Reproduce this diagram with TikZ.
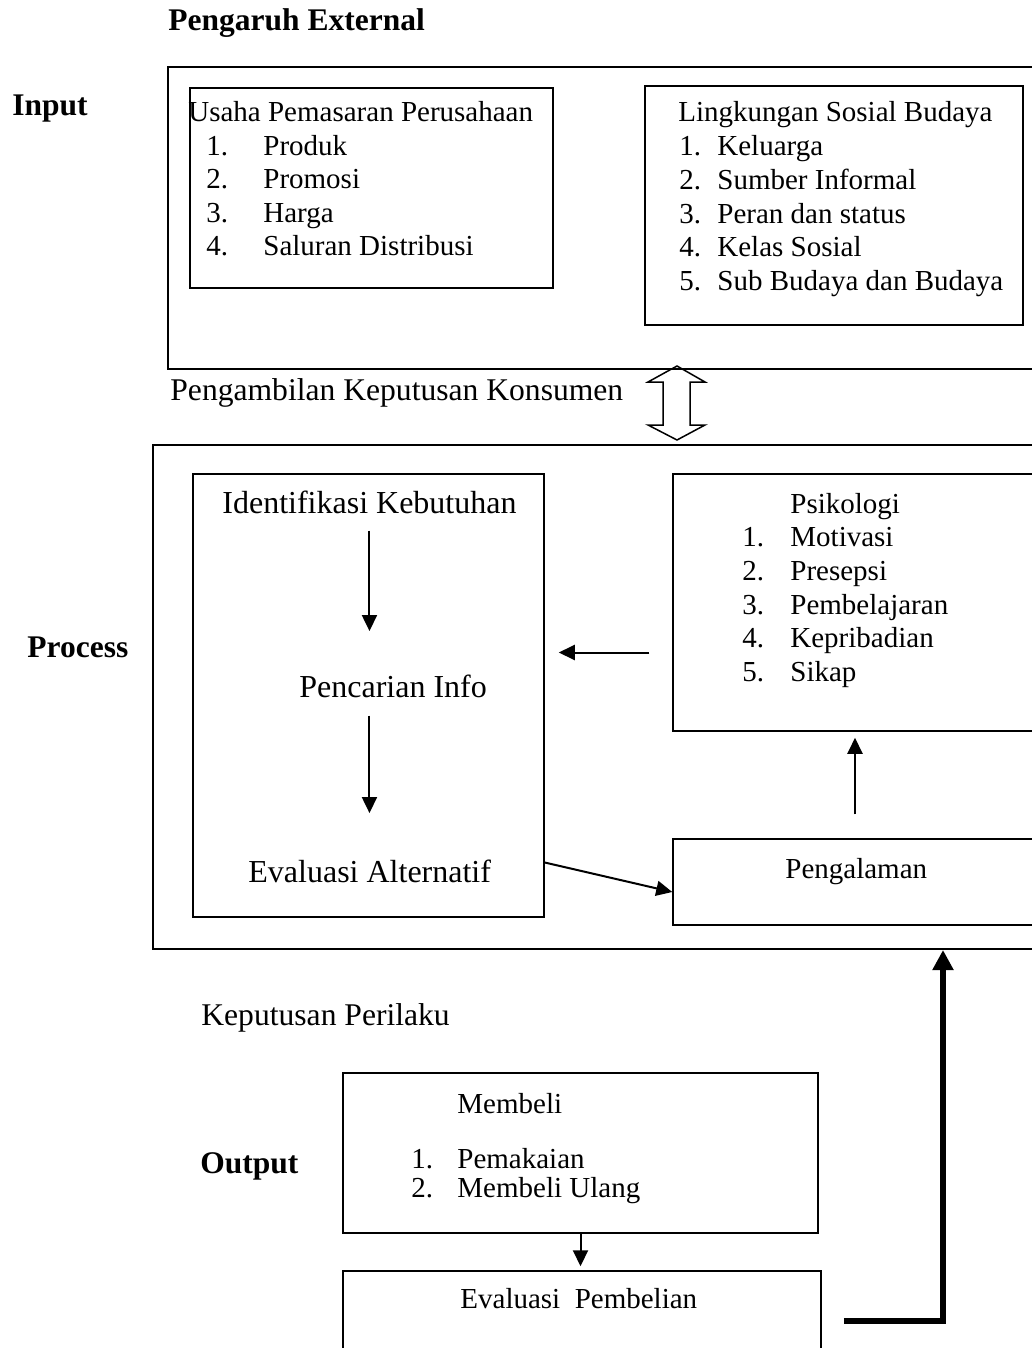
\documentclass[tikz,border=0pt]{standalone}
\usepackage{fontspec}
\setmainfont{Liberation Serif}
\usetikzlibrary{arrows.meta,positioning,fit,calc}
\tikzset{
	frame/.style={draw, line width=1pt, inner sep=0pt},
	panel/.style={draw, line width=0.75pt, inner sep=0pt},
	txt/.style={anchor=base west, inner sep=0pt, font=\fontsize{14.5}{17}\selectfont},
	step txt/.style={anchor=base west, inner sep=0pt, font=\fontsize{16}{19}\selectfont},
	note/.style={anchor=base west, inner sep=0pt, font=\fontsize{15.8}{19}\selectfont},
	lbl/.style={anchor=base west, inner sep=0pt, font=\fontsize{15.75}{19}\selectfont\bfseries},
	flow/.style={-{Triangle[length=8pt, width=7.5pt]}, line width=1pt},
	feedback/.style={-{Triangle[length=10pt, width=10pt]}, line width=3pt}
}

\begin{document}
\begin{tikzpicture}[x=0.5pt, y=-0.5pt]
	\useasboundingbox (0,0) rectangle (1032,1348);
	\clip (0,0) rectangle (1032,1348);
	\node[frame, fit={(168,67) (1050,369)}] (input) {};
	\node[frame, fit={(153,445) (1050,949)}] (process) {};
	\node[panel, fit={(190,88) (553,288)}] (usaha) {};
	\node[panel, fit={(645,86) (1023,325)}] (sosial) {};
	\node[panel, fit={(193,474) (544,917)}] (ident) {};
	\node[panel, fit={(673,474) (1037,731)}] (psiko) {};
	\node[panel, fit={(673,839) (1037,925)}] (alami) {};
	\node[panel, fit={(343,1073) (818,1233)}] (beli) {};
	\node[panel, fit={(343,1271) (821,1370)}] (evalbeli) {};
	\node[lbl] (ttlext) at (168,31) {Pengaruh External};
	\node[lbl] (lblin) at (12,116) {Input};
	\node[lbl] (lblproc) at (27,657) {Process};
	\node[lbl] (lblout) at (200,1173) {Output};
	\node[txt] (usahattl) at (188,122) {Usaha Pemasaran Perusahaan};
	\foreach \t [count=\i] in {Produk, Promosi, Harga, Saluran Distribusi} {
		\node[txt] (un\i) at (206,122+33.5*\i) {\i.};
		\node[txt] (ut\i) at (263,122+33.5*\i) {\t};
	}
	\node[txt] (sosialttl) at (678,122) {Lingkungan Sosial Budaya};
	\foreach \t [count=\i] in {Keluarga, Sumber Informal, Peran dan status, Kelas Sosial, Sub Budaya dan Budaya} {
		\node[txt] (sn\i) at (679,122+33.7*\i) {\i.};
		\node[txt] (st\i) at (717,122+33.7*\i) {\t};
	}
	\node[note] (ambil) at (170,400) {Pengambilan Keputusan Konsumen};
	\coordinate (swap) at (677,403);
	\draw[line width=0.75pt] (swap) ++(0,-37) -- ++(28,16) -- ++(-15,0) -- ++(0,43) -- ++(15,0)
		-- ++(-28,15) -- ++(-29,-15) -- ++(15,0) -- ++(0,-43) -- ++(-15,0) -- cycle;
	\node[step txt] (idtxt) at (222,513) {Identifikasi Kebutuhan};
	\node[step txt] (infotxt) at (299,697) {Pencarian Info};
	\node[step txt] (alttxt) at (248,882) {Evaluasi Alternatif};
	\draw[flow, shorten <=8.5pt, shorten >=21.5pt] (idtxt.south) -- (idtxt.south |- infotxt.north);
	\draw[flow, shorten <=9pt, shorten >=23pt] (idtxt.south |- infotxt.south) -- (idtxt.south |- alttxt.north);
	\node[txt] (psikottl) at (790,513) {Psikologi};
	\foreach \t [count=\i] in {Motivasi, Presepsi, Pembelajaran, Kepribadian, Sikap} {
		\node[txt] (pn\i) at (742,513+33.7*\i) {\i.};
		\node[txt] (pt\i) at (790,513+33.7*\i) {\t};
	}
	\node[txt] (alamitxt) at (785,878) {Pengalaman};
	\coordinate (psin) at ($(psiko.west)+(0,50)$);
	\draw[flow, shorten <=11.5pt, shorten >=7pt] (psin) -- (psin -| ident.east);
	\draw[flow] ($(ident.east)+(0,167)$) -- ($(alami.west)+(0,10)$);
	\draw[flow, shorten <=12pt, shorten >=3pt] (alami.north) -- (psiko.south);
	\node[note] (perilaku) at (201,1025) {Keputusan Perilaku};
	\node[txt] (belittl) at (457,1113) {Membeli};
	\foreach \t [count=\i] in {Pemakaian, Membeli Ulang} {
		\node[txt] (bn\i) at (411,1139+29*\i) {\i.};
		\node[txt] (bt\i) at (457,1139+29*\i) {\t};
	}
	\node[txt] (evalbelitxt) at (460,1308) {Evaluasi\ \ Pembelian};
	\draw[flow, shorten >=2pt] (beli.south) -- (beli.south |- evalbeli.north);
	\coordinate (fb) at (943,1321);
	\draw[feedback] ($(evalbeli.east |- fb)+(22,0)$) -- (fb) -- (fb |- process.south);
\end{tikzpicture}
\end{document}
